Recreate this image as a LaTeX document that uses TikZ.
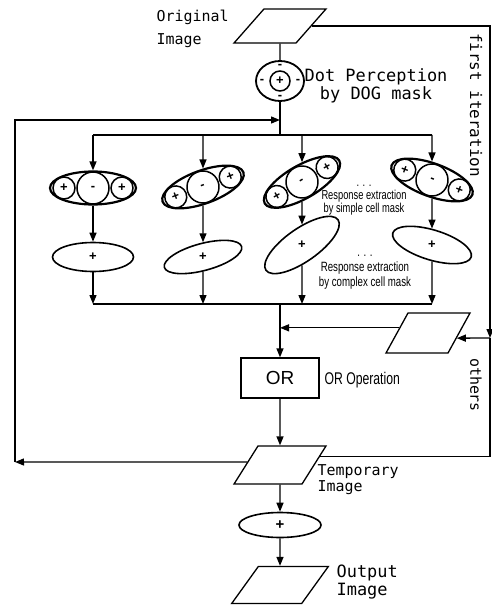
\documentclass[tikz,border=0pt]{standalone}
\usepackage{fontspec}
\setmainfont{DejaVu Sans Mono}
\newfontfamily\narrowfont[FakeStretch=0.72]{Liberation Sans}
\newfontfamily\plainfont{Liberation Sans}
\usetikzlibrary{shapes.geometric,arrows.meta,calc}
\tikzset{
  para/.style={draw,inner sep=0pt,minimum height=37bp,minimum width=64bp},
  dogout/.style={draw,ellipse,line width=1.8bp,minimum width=48bp,minimum height=40bp,inner sep=0pt},
  maskout/.style={draw,ellipse,line width=2.2bp,minimum width=86bp,minimum height=33bp,inner sep=0pt},
  maskin/.style={draw,circle,line width=1.5bp,inner sep=0pt,font=\plainfont\bfseries\fontsize{13}{13}\selectfont},
  respout/.style={draw,ellipse,line width=1.6bp,inner sep=0pt},
  sign/.style={inner sep=0pt,font=\plainfont\bfseries\fontsize{13}{13}\selectfont},
  orbox/.style={draw,minimum width=78bp,minimum height=40bp,font=\plainfont\fontsize{19}{19}\selectfont},
  lbl/.style={inner sep=0pt,anchor=west,align=left},
  note/.style={inner sep=0pt,align=center,font=\narrowfont\fontsize{13}{13}\selectfont}
}

\begin{document}
\begin{tikzpicture}[x=1bp,y=-1bp,line width=1.3bp,>={Triangle[length=9bp,width=7bp]}]
    \useasboundingbox (0,0) rectangle (492,607);
    \node[para,xslant=0.88,minimum width=62bp,minimum height=34bp] (orig) at (280,26) {};
    \node[dogout] (dog) at (280,81) {};
    \node[draw,circle,line width=1.5bp,minimum size=20bp,inner sep=0pt,font=\plainfont\bfseries\fontsize{13}{13}\selectfont] (dogc) at (dog) {+};
    \foreach \dx/\dy [count=\i] in {0/-15,0/16,-18/0,18/0}
      \node[sign] (dm\i) at ($(dog)+(\dx,\dy)$) {-};
    \coordinate (ja) at (280,120);
    \coordinate (jd) at (280,135);
    \coordinate (jk) at (280,304);
    \coordinate (jr) at (490,338);
    \coordinate (lb) at (15,462);
    \foreach \cx/\my/\ma/\ry/\ra/\rw/\rh/\n in {93/188/0/257/0/81/29/1,203/187/20/257/15/80/27/2,
        302/182/30/245/35/88/33/3,432/180/-20/245/-17/82/30/4}{
      \coordinate (d\n) at (\cx,135);
      \coordinate (k\n) at (\cx,304);
      \node[maskout,rotate=\ma] (m\n) at (\cx,\my) {};
      \begin{scope}[shift={(m\n.center)},rotate=\ma,transform shape]
        \node[maskin,minimum size=32bp] (mc\n) at (0,0) {-};
        \node[maskin,minimum size=22bp] (ml\n) at (-29,0) {+};
        \node[maskin,minimum size=22bp] (mr\n) at (29,0) {+};
      \end{scope}
      \node[respout,minimum width=\rw bp,minimum height=\rh bp,rotate=\ra] (r\n) at (\cx,\ry) {};
      \node[sign] (rs\n) at (r\n) {+};
      \draw[->] (d\n) -- (m\n);
      \draw[->] (m\n) -- (r\n);
      \draw[->] (r\n) -- (k\n);
    }
    \node[para,xslant=0.55,minimum width=62bp,minimum height=40bp] (buf) at (428,333) {};
    \node[orbox] (or) at (280,378) {OR};
    \node[para,xslant=0.63,minimum width=68bp,minimum height=38bp] (temp) at (280,465) {};
    \node[respout,minimum width=82bp,minimum height=25bp,font=\plainfont\bfseries\fontsize{15}{15}\selectfont] (tplus) at (280,525) {+};
    \node[para,xslant=0.72,minimum width=70bp,minimum height=37bp] (out) at (280,585) {};
    \coordinate (bi) at ($(buf.north east)!0.625!(buf.south east)$);
    \coordinate (bo) at ($(buf.north west)!0.375!(buf.south west)$);
    \coordinate (ti) at ($(temp.north east)!0.29!(temp.south east)$);
    \coordinate (to) at ($(temp.north west)!0.421!(temp.south west)$);
    \draw (orig) -- (dog);
    \draw (dog) -- (jd);
    \draw (d1) -- (d4);
    \draw (k1) -- (k4);
    \draw[->] (jk) -- (or);
    \draw[->] (bo) -- (bo -| or);
    \draw[->] (or) -- (temp);
    \draw[->] (temp) -- (tplus);
    \draw[->] (tplus) -- (out);
    \draw[->] (orig.east) -| (jr);
    \draw (ti) -| (jr);
    \draw[->] (jr) -- (bi);
    \draw[->] (to) -- (lb);
    \draw[->] (lb) |- (ja);
    \node[lbl,font=\fontsize{15}{23}\selectfont] (origtxt) at (156,29) {Original\\Image};
    \node[anchor=west,inner sep=0pt,align=center,font=\fontsize{17}{14.5}\selectfont] (dogtxt) at (304,86) {Dot Perception\\by DOG mask};
    \node[note] (simtxt) at (364,200) {. . .\\Response extraction\\by simple cell mask};
    \node[note,font=\narrowfont\fontsize{13.5}{15}\selectfont] (comtxt) at (365,272) {. . .\\Response extraction\\by complex cell mask};
    \node[lbl,font=\narrowfont\fontsize{17}{17}\selectfont] (ortxt) at (324,380) {OR Operation};
    \node[lbl,font=\fontsize{15}{16}\selectfont] (temptxt) at (317,480) {Temporary\\Image};
    \node[lbl,font=\fontsize{17}{18}\selectfont] (outtxt) at (336,582) {Output\\Image};
    \node[inner sep=0pt,rotate=-90,font=\fontsize{16}{16}\selectfont] (firsttxt) at (476,105) {first iteration};
    \node[inner sep=0pt,rotate=-90,font=\fontsize{15}{15}\selectfont] (othtxt) at (476,385) {others};
\end{tikzpicture}
\end{document}
